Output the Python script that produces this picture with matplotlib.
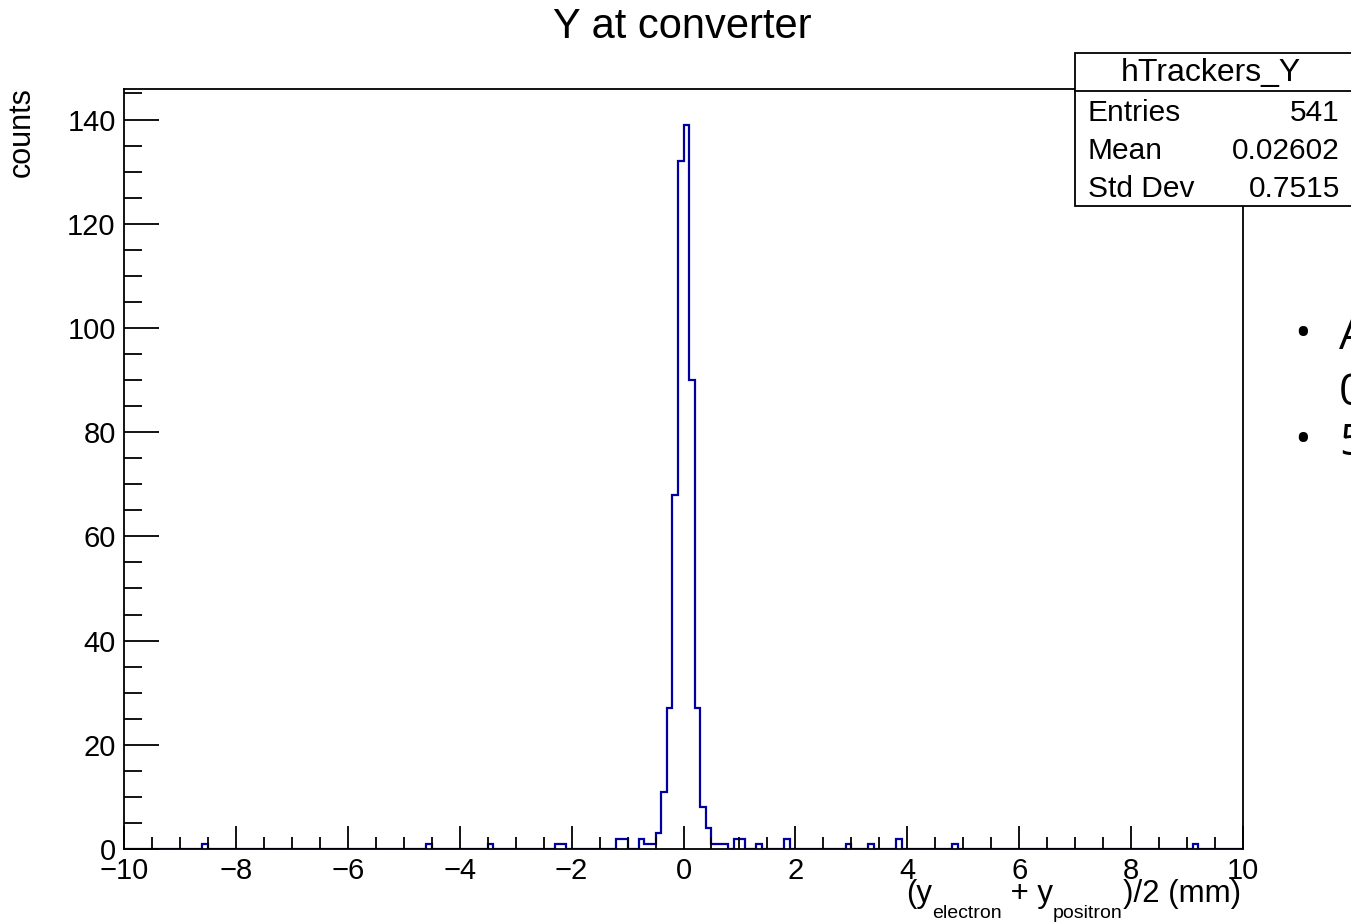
#!/usr/bin/python3
## Y position at the converter, reconstructed from tracker pairs

import numpy as np

import matplotlib
matplotlib.use('Agg')
import matplotlib.pyplot as plt
from matplotlib.patches import Rectangle
from matplotlib.ticker import MultipleLocator

# histogram binning: 200 bins of 0.1 mm between -10 and 10
xmin, xmax, nbins = -10.0, 10.0, 200

# lower edges of the filled bins and their contents
bin_low = [-8.6, -4.6, -3.5, -2.3, -2.2, -1.2, -1.1, -0.8, -0.7, -0.6,
           -0.5, -0.4, -0.3, -0.2, -0.1, 0.0, 0.1, 0.2, 0.3, 0.4,
           0.5, 0.6, 0.7, 0.9, 1.0, 1.3, 1.8, 2.9, 3.3, 3.8,
           4.8, 9.1]
bin_count = [1, 1, 1, 1, 1, 2, 2, 2, 1, 1,
             3, 11, 27, 68, 132, 139, 90, 27, 8, 4,
             1, 1, 1, 2, 2, 1, 2, 1, 1, 2,
             1, 1]

# stats box
hist_name = 'hTrackers_Y'
stat_names = ['Entries', 'Mean', 'Std Dev']
stat_values = ['541', '0.02602', '0.7515']

yticks_major = [0, 20, 40, 60, 80, 100, 120, 140]
xticks_major = [-10, -8, -6, -4, -2, 0, 2, 4, 6, 8, 10]

# x title pieces: (text, is_subscript)
xtitle = [('(y', False), ('electron', True), (' + y', False),
          ('positron', True), (')/2 (mm)', False)]

W, H = 1351, 923

def fx(px):
    return px/W

def fy(py):
    return 1 - py/H

def xtitle_draw(fig, right, base, size=22.5, subsize=14, drop=16):
    # ROOT style sub-scripts, laid out left to right then shifted to end at 'right'
    r = fig.canvas.get_renderer()
    x = 0.0
    texts = []
    for s, sub in xtitle:
        t = fig.text(fx(x), fy(base + drop) if sub else fy(base), s,
                     fontsize=subsize if sub else size, ha='left', va='baseline')
        w = t.get_window_extent(renderer=r).width
        texts.append((t, x))
        x += w
    shift = right - x
    for t, x0 in texts:
        t.set_x(fx(x0 + shift))

def main():
    plt.rcParams['font.family'] = ['Liberation Sans', 'DejaVu Sans']

    edges = np.linspace(xmin, xmax, nbins + 1)
    counts = np.zeros(nbins)
    for lo, c in zip(bin_low, bin_count):
        counts[int(round((lo - xmin)/0.1))] = c

    fig = plt.figure(figsize=(W/100, H/100), dpi=100)
    ax = fig.add_axes([fx(124), fy(849), fx(1243) - fx(124), fy(88.5) - fy(849)])

    ax.stairs(counts, edges, color='#0000a0', linewidth=1.6)

    ax.set_xlim(xmin, xmax)
    ax.set_ylim(0, 1.05*max(bin_count))

    ax.set_xticks(xticks_major)
    ax.set_yticks(yticks_major)
    ax.xaxis.set_minor_locator(MultipleLocator(0.5))
    ax.yaxis.set_minor_locator(MultipleLocator(5))
    ax.tick_params(axis='both', which='both', direction='in', top=False, right=False,
                   width=1.3, color='black', labelsize=21)
    ax.tick_params(axis='x', which='major', length=16.5, pad=6)
    ax.tick_params(axis='x', which='minor', length=8.3)
    ax.tick_params(axis='y', which='major', length=25, pad=6)
    ax.tick_params(axis='y', which='minor', length=13)
    for s in ax.spines.values():
        s.set_linewidth(1.3)

    # title and axis labels
    fig.text(fx(682), fy(27), 'Y at converter', ha='center', va='center', fontsize=30)
    fig.text(fx(22), fy(87), 'counts', rotation=90, ha='center', va='top', fontsize=22)
    xtitle_draw(fig, 1241, 902)

    # stats box, cut off by the right edge
    fig.patches.append(Rectangle((fx(1075), fy(206)), fx(1352) - fx(1075), fy(53) - fy(206),
                                 transform=fig.transFigure, facecolor='white',
                                 edgecolor='black', linewidth=1.3, zorder=5))
    fig.lines.append(plt.Line2D([fx(1075), fx(1352)], [fy(90.5), fy(90.5)],
                                transform=fig.transFigure, color='black', linewidth=1.3, zorder=6))
    fig.text(fx(1211), fy(73), hist_name, ha='center', va='center', fontsize=23, zorder=7)
    for i, (name, value) in enumerate(zip(stat_names, stat_values)):
        y = fy(113 + 38*i)
        fig.text(fx(1088), y, name, ha='left', va='center', fontsize=21.5, zorder=7)
        fig.text(fx(1340), y, value, ha='right', va='center', fontsize=21.5, zorder=7)

    # slide bullets that run past the edge
    bfont = dict(fontsize=32, family=['Open Sans', 'DejaVu Sans'], va='center')
    fig.text(fx(1294), fy(336), '\u2022', **bfont)
    fig.text(fx(1339), fy(338), 'A', **bfont)
    fig.text(fx(1339), fy(394), '0', **bfont)
    fig.text(fx(1294), fy(442), '\u2022', **bfont)
    fig.text(fx(1339), fy(444), '5', **bfont)

    fig.savefig('out.png', dpi=100)

if __name__ == '__main__':
    main()
